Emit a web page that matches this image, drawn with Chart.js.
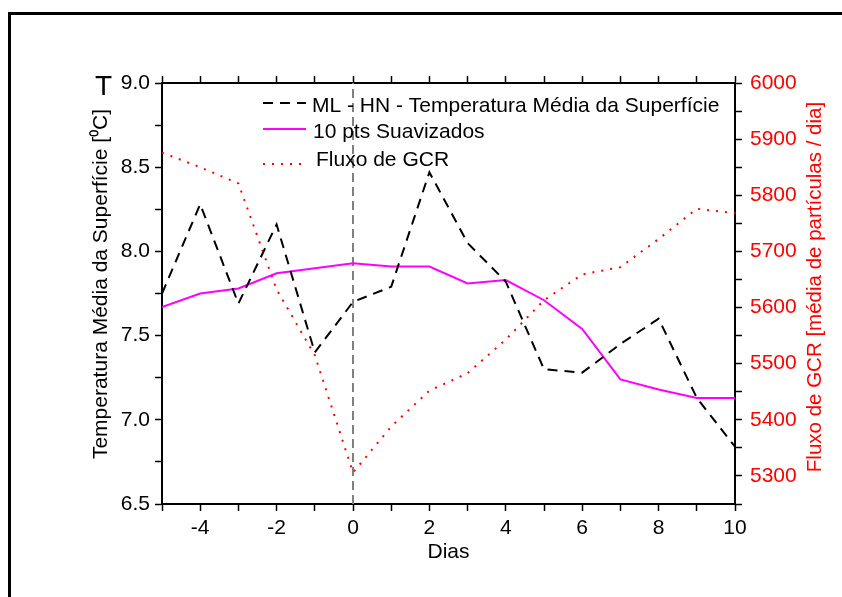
<!DOCTYPE html>
<html>
<head>
<meta charset="utf-8">
<script src="https://cdn.jsdelivr.net/npm/chart.js@4/dist/chart.umd.min.js"></script>
<style>
html, body { margin: 0; padding: 0; background: #fff; overflow: hidden; }
#frame { position: absolute; left: 8px; top: 12px; width: 900px; height: 700px; border-left: 3px solid #000; border-top: 3px solid #000; }
#chartCanvas { position: absolute; left: 0; top: 0; }
</style>
</head>
<body>
<div id="frame"></div>
<canvas id="chartCanvas" width="842" height="597"></canvas>
<script>
// dados
const dias = [-5, -4, -3, -2, -1, 0, 1, 2, 3, 4, 5, 6, 7, 8, 9, 10];
const tempML = [7.75, 8.28, 7.69, 8.16, 7.40, 7.70, 7.79, 8.47, 8.05, 7.82, 7.30, 7.28, 7.45, 7.60, 7.13, 6.84];
const temp10pts = [7.67, 7.75, 7.78, 7.87, 7.90, 7.93, 7.91, 7.91, 7.81, 7.83, 7.71, 7.54, 7.24, 7.18, 7.13, 7.13];
const fluxoGCR = [5876, 5850, 5821, 5632, 5515, 5306, 5388, 5452, 5483, 5543, 5613, 5659, 5672, 5722, 5776, 5768];
const marcoX = [0, 0];          // linha tracejada no dia 0
const marcoY = [6.5, 9.0];

const FONT = '"Liberation Sans", Arial, sans-serif';
const FS = 21;

function pts(xs, ys) {
    return xs.map((x, i) => ({ x: x, y: ys[i] }));
}

function textoVertical(ctx, txt, x, y, cor, tam) {
    ctx.save();
    ctx.translate(x, y);
    ctx.rotate(-Math.PI / 2);
    ctx.font = tam + 'px ' + FONT;
    ctx.textAlign = 'center';
    ctx.textBaseline = 'middle';
    ctx.fillStyle = cor;
    ctx.fillText(txt, 0, 0);
    ctx.restore();
}

// legenda dentro da área do gráfico, títulos dos eixos verticais e o "T"
const extras = {
    id: 'extras',
    afterDraw(chart) {
        const ctx = chart.ctx;
        ctx.save();
        const rows = [
            { ds: 0, ly: 103, ty: 112, tx: 312 },
            { ds: 1, ly: 129, ty: 138, tx: 313 },
            { ds: 2, ly: 164, ty: 166, tx: 316 }
        ];
        ctx.font = FS + 'px ' + FONT;
        ctx.textBaseline = 'alphabetic';
        ctx.textAlign = 'left';
        for (const r of rows) {
            const d = chart.data.datasets[r.ds];
            ctx.beginPath();
            ctx.strokeStyle = d.borderColor;
            ctx.lineWidth = d.borderWidth;
            ctx.setLineDash(d.borderDash || []);
            ctx.moveTo(263, r.ly);
            ctx.lineTo(306, r.ly);
            ctx.stroke();
            ctx.setLineDash([]);
            ctx.fillStyle = '#000';
            ctx.fillText(d.label, r.tx, r.ty);
        }
        ctx.restore();

        textoVertical(ctx, 'Temperatura Média da Superfície [⁰C]', 101, 284, '#000', FS);
        textoVertical(ctx, 'Fluxo de GCR [média de partículas / dia]', 815, 287, '#ff0000', 20.5);

        ctx.save();
        ctx.font = '28px ' + FONT;
        ctx.fillStyle = '#000';
        ctx.textBaseline = 'alphabetic';
        ctx.fillText('T', 95, 95);
        ctx.restore();
    }
};

const axisGrid = {
    display: true,
    drawOnChartArea: false,
    drawTicks: true,
    tickLength: 7,
    tickColor: '#000',
    tickWidth: 1.5
};
const axisBorder = { display: true, color: '#000', width: 2 };

const ctx = document.getElementById('chartCanvas').getContext('2d');
const chart = new Chart(ctx, {
    type: 'line',
    data: {
        datasets: [
            {
                label: 'ML - HN - Temperatura Média da Superfície',
                data: pts(dias, tempML),
                xAxisID: 'x', yAxisID: 'y',
                borderColor: '#000000',
                borderWidth: 2,
                borderDash: [10, 7],
                pointRadius: 0,
                fill: false,
                tension: 0
            },
            {
                label: '10 pts Suavizados',
                data: pts(dias, temp10pts),
                xAxisID: 'x', yAxisID: 'y',
                borderColor: '#ff00ff',
                borderWidth: 2,
                pointRadius: 0,
                fill: false,
                tension: 0
            },
            {
                label: 'Fluxo de GCR',
                data: pts(dias, fluxoGCR),
                xAxisID: 'x', yAxisID: 'y2',
                borderColor: '#ff0000',
                borderWidth: 2,
                borderDash: [2, 7],
                pointRadius: 0,
                fill: false,
                tension: 0
            },
            {
                label: 'dia 0',
                data: pts(marcoX, marcoY),
                xAxisID: 'x', yAxisID: 'y',
                borderColor: '#808080',
                borderWidth: 2,
                borderDash: [9, 5],
                pointRadius: 0,
                fill: false
            }
        ]
    },
    options: {
        responsive: false,
        animation: false,
        devicePixelRatio: 1,
        layout: { padding: 0 },
        plugins: {
            legend: { display: false },
            tooltip: { enabled: false }
        },
        scales: {
            x: {
                type: 'linear',
                position: 'bottom',
                min: -5, max: 10,
                ticks: {
                    stepSize: 1, autoSkip: false, maxRotation: 0, padding: 5,
                    color: '#000', font: { family: FONT, size: FS },
                    callback: v => (v % 2 === 0 ? String(v) : '')
                },
                grid: axisGrid,
                border: axisBorder,
                title: {
                    display: true, text: 'Dias', color: '#000',
                    font: { family: FONT, size: FS },
                    padding: { top: 0, bottom: 32 }
                },
                afterFit: s => { s.height = 93; }
            },
            x2: {
                type: 'linear',
                position: 'top',
                min: -5, max: 10,
                ticks: { stepSize: 1, autoSkip: false, callback: () => '' },
                grid: axisGrid,
                border: axisBorder,
                afterFit: s => { s.height = 83; }
            },
            y: {
                type: 'linear',
                position: 'left',
                min: 6.5, max: 9.0,
                ticks: {
                    stepSize: 0.25, autoSkip: false, padding: 5,
                    color: '#000', font: { family: FONT, size: FS },
                    callback: v => (Math.abs(v * 2 - Math.round(v * 2)) < 1e-9 ? v.toFixed(1) : '')
                },
                grid: axisGrid,
                border: axisBorder,
                afterFit: s => { s.width = 162; }
            },
            y2: {
                type: 'linear',
                position: 'right',
                min: 5250, max: 6000,
                ticks: {
                    stepSize: 50, autoSkip: false, padding: 8,
                    color: '#ff0000', font: { family: FONT, size: FS },
                    callback: v => (v % 100 === 0 ? String(v) : '')
                },
                grid: axisGrid,
                border: axisBorder,
                afterFit: s => { s.width = 107; }
            }
        }
    },
    plugins: [extras]
});
</script>
</body>
</html>
